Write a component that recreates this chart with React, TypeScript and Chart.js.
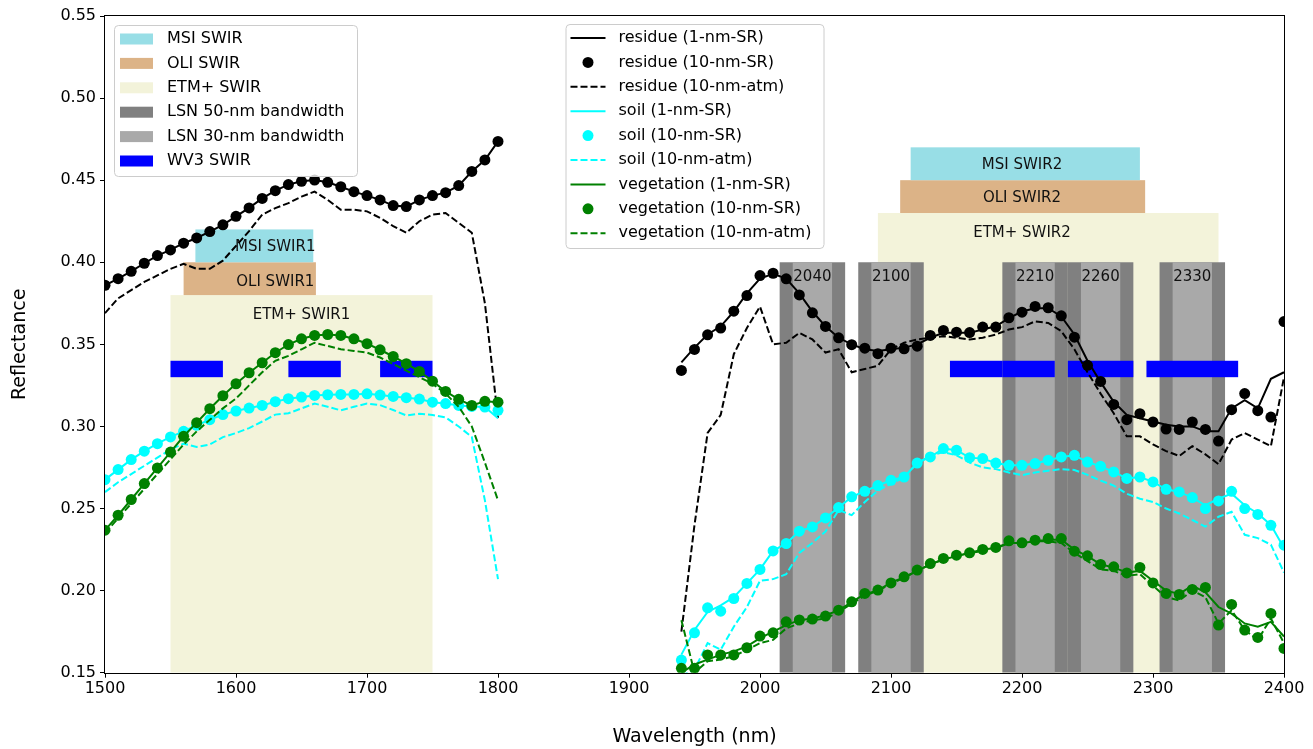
import React, { useEffect, useRef } from "react";
import { Chart, registerables } from "chart.js";

Chart.register(...registerables);

// ---------------- data ----------------
const wlLeft = [1500, 1510, 1520, 1530, 1540, 1550, 1560, 1570, 1580, 1590, 1600, 1610, 1620, 1630, 1640, 1650, 1660, 1670, 1680, 1690, 1700, 1710, 1720, 1730, 1740, 1750, 1760, 1770, 1780, 1790, 1800];
const wlRight = [1940, 1950, 1960, 1970, 1980, 1990, 2000, 2010, 2020, 2030, 2040, 2050, 2060, 2070, 2080, 2090, 2100, 2110, 2120, 2130, 2140, 2150, 2160, 2170, 2180, 2190, 2200, 2210, 2220, 2230, 2240, 2250, 2260, 2270, 2280, 2290, 2300, 2310, 2320, 2330, 2340, 2350, 2360, 2370, 2380, 2390, 2400];

const residueDotsLeft = [0.386, 0.390, 0.3945, 0.3994, 0.4041, 0.4075, 0.4116, 0.4148, 0.4187, 0.4228, 0.4280, 0.4331, 0.4389, 0.4436, 0.4473, 0.4493, 0.4501, 0.4487, 0.4460, 0.4430, 0.4406, 0.4380, 0.4345, 0.4339, 0.4380, 0.4406, 0.4424, 0.4467, 0.4553, 0.4623, 0.4736];
const residueLineLeft = [0.386, 0.390, 0.3945, 0.3994, 0.4041, 0.4075, 0.4116, 0.4148, 0.4187, 0.4228, 0.4280, 0.4331, 0.4389, 0.4436, 0.4473, 0.4493, 0.4501, 0.4487, 0.4460, 0.4430, 0.4406, 0.4380, 0.4345, 0.4339, 0.4380, 0.4406, 0.4424, 0.4467, 0.4553, 0.4623, 0.4736];
const residueAtmLeft = [0.369, 0.378, 0.383, 0.388, 0.392, 0.396, 0.399, 0.396, 0.396, 0.401, 0.410, 0.419, 0.429, 0.433, 0.436, 0.440, 0.443, 0.438, 0.432, 0.432, 0.431, 0.427, 0.422, 0.418, 0.425, 0.429, 0.430, 0.424, 0.418, 0.375, 0.305];

const soilDotsLeft = [0.2676, 0.2737, 0.2798, 0.2849, 0.2895, 0.2936, 0.2970, 0.3007, 0.3041, 0.3072, 0.3094, 0.3112, 0.3128, 0.3151, 0.3169, 0.3179, 0.3189, 0.3193, 0.3195, 0.3195, 0.3199, 0.3191, 0.3183, 0.3175, 0.3167, 0.3148, 0.3139, 0.3128, 0.3122, 0.3118, 0.3098];
const soilLineLeft = [0.2676, 0.2737, 0.2798, 0.2849, 0.2895, 0.2936, 0.2970, 0.3007, 0.3041, 0.3072, 0.3094, 0.3112, 0.3128, 0.3151, 0.3169, 0.3179, 0.3189, 0.3193, 0.3195, 0.3195, 0.3199, 0.3191, 0.3183, 0.3175, 0.3167, 0.3148, 0.3139, 0.3128, 0.3122, 0.3118, 0.305];
const soilAtmLeft = [0.260, 0.266, 0.271, 0.276, 0.281, 0.286, 0.2895, 0.2875, 0.289, 0.2935, 0.296, 0.299, 0.303, 0.3072, 0.308, 0.311, 0.3139, 0.312, 0.3098, 0.312, 0.3139, 0.313, 0.310, 0.3067, 0.3077, 0.307, 0.3055, 0.300, 0.2936, 0.255, 0.207];

const vegDotsLeft = [0.2368, 0.2459, 0.2555, 0.2652, 0.2747, 0.2844, 0.2940, 0.3023, 0.3108, 0.3187, 0.3260, 0.3327, 0.3388, 0.3449, 0.3499, 0.3534, 0.3554, 0.3560, 0.3554, 0.3534, 0.3504, 0.3467, 0.3426, 0.3382, 0.3335, 0.3276, 0.3213, 0.3165, 0.3128, 0.3153, 0.3148];
const vegLineLeft = [0.2368, 0.2459, 0.2555, 0.2652, 0.2747, 0.2844, 0.2940, 0.3023, 0.3108, 0.3187, 0.3260, 0.3327, 0.3388, 0.3449, 0.3499, 0.3534, 0.3554, 0.3560, 0.3554, 0.3534, 0.3504, 0.3467, 0.3426, 0.3382, 0.3335, 0.3276, 0.3213, 0.3165, 0.3128, 0.3153, 0.3148];
const vegAtmLeft = [0.235, 0.244, 0.253, 0.262, 0.271, 0.280, 0.289, 0.297, 0.304, 0.311, 0.317, 0.325, 0.333, 0.340, 0.343, 0.347, 0.351, 0.349, 0.347, 0.346, 0.345, 0.342, 0.338, 0.334, 0.330, 0.326, 0.320, 0.312, 0.300, 0.278, 0.255];

const residueDotsRight = [0.3341, 0.3469, 0.3558, 0.3599, 0.3702, 0.3797, 0.3919, 0.3933, 0.3899, 0.3801, 0.3692, 0.3609, 0.3540, 0.3498, 0.3477, 0.3443, 0.3477, 0.3473, 0.3489, 0.3554, 0.3585, 0.3574, 0.3572, 0.3605, 0.3605, 0.3662, 0.3696, 0.3731, 0.3723, 0.3674, 0.3544, 0.3372, 0.3274, 0.3134, 0.3041, 0.3078, 0.3027, 0.2984, 0.2982, 0.3027, 0.2982, 0.2911, 0.3102, 0.3200, 0.3096, 0.3057, 0.3639];
const residueLineRight = [0.339, 0.348, 0.356, 0.361, 0.370, 0.381, 0.390, 0.393, 0.390, 0.381, 0.370, 0.361, 0.354, 0.350, 0.347, 0.346, 0.347, 0.348, 0.350, 0.354, 0.357, 0.357, 0.357, 0.359, 0.361, 0.366, 0.370, 0.372, 0.372, 0.367, 0.356, 0.340, 0.327, 0.315, 0.307, 0.305, 0.303, 0.301, 0.300, 0.300, 0.297, 0.297, 0.311, 0.316, 0.311, 0.329, 0.333];
const residueAtmRight = [0.175, 0.240, 0.296, 0.307, 0.344, 0.360, 0.373, 0.350, 0.351, 0.357, 0.353, 0.345, 0.347, 0.333, 0.335, 0.337, 0.347, 0.351, 0.353, 0.354, 0.355, 0.354, 0.353, 0.354, 0.356, 0.359, 0.3605, 0.364, 0.363, 0.358, 0.347, 0.333, 0.320, 0.308, 0.294, 0.294, 0.289, 0.285, 0.282, 0.288, 0.283, 0.277, 0.292, 0.296, 0.292, 0.288, 0.330];

const soilDotsRight = [0.1577, 0.1743, 0.1895, 0.1875, 0.1952, 0.2044, 0.2129, 0.2242, 0.2287, 0.2362, 0.2388, 0.2443, 0.2506, 0.2571, 0.2605, 0.2640, 0.2672, 0.2692, 0.2777, 0.2814, 0.2865, 0.2855, 0.2810, 0.2804, 0.2777, 0.2763, 0.2763, 0.2774, 0.2794, 0.2814, 0.2824, 0.2783, 0.2757, 0.2723, 0.2683, 0.2692, 0.2662, 0.2617, 0.2601, 0.2567, 0.2500, 0.2546, 0.2605, 0.2500, 0.2464, 0.2398, 0.2277];
const soilLineRight = [0.161, 0.176, 0.187, 0.191, 0.196, 0.2044, 0.2129, 0.2242, 0.2287, 0.2362, 0.2388, 0.2443, 0.2506, 0.2571, 0.2605, 0.2640, 0.2672, 0.2692, 0.2777, 0.2814, 0.2865, 0.2855, 0.2810, 0.2804, 0.2777, 0.2763, 0.2763, 0.2774, 0.2794, 0.2814, 0.2824, 0.2783, 0.2757, 0.2723, 0.2683, 0.2692, 0.2662, 0.2617, 0.2601, 0.2567, 0.252, 0.256, 0.259, 0.252, 0.247, 0.240, 0.226];
const soilAtmRight = [0.148, 0.152, 0.168, 0.164, 0.178, 0.190, 0.206, 0.207, 0.210, 0.223, 0.229, 0.236, 0.249, 0.246, 0.254, 0.261, 0.265, 0.269, 0.2777, 0.282, 0.2844, 0.2824, 0.278, 0.275, 0.274, 0.272, 0.2703, 0.272, 0.273, 0.274, 0.2735, 0.2705, 0.267, 0.264, 0.259, 0.256, 0.254, 0.250, 0.247, 0.243, 0.239, 0.245, 0.248, 0.234, 0.232, 0.228, 0.211];

const vegDotsRight = [0.1527, 0.1527, 0.1608, 0.1608, 0.1608, 0.1652, 0.1723, 0.1743, 0.1810, 0.1821, 0.1827, 0.1845, 0.1881, 0.1932, 0.1983, 0.2003, 0.2047, 0.2084, 0.2125, 0.2165, 0.2196, 0.2216, 0.2230, 0.2251, 0.2263, 0.2303, 0.2291, 0.2307, 0.2317, 0.2317, 0.2240, 0.2212, 0.2159, 0.2145, 0.2108, 0.2141, 0.2047, 0.1983, 0.1977, 0.2007, 0.2019, 0.1790, 0.1916, 0.1760, 0.1715, 0.1861, 0.1648];
const vegLineRight = [0.150, 0.155, 0.158, 0.161, 0.163, 0.166, 0.171, 0.175, 0.179, 0.182, 0.183, 0.185, 0.188, 0.193, 0.198, 0.200, 0.205, 0.208, 0.212, 0.216, 0.219, 0.221, 0.223, 0.225, 0.226, 0.229, 0.229, 0.230, 0.231, 0.231, 0.225, 0.221, 0.216, 0.214, 0.211, 0.212, 0.206, 0.200, 0.198, 0.203, 0.199, 0.190, 0.186, 0.180, 0.178, 0.181, 0.172];
const vegAtmRight = [0.182, 0.150, 0.157, 0.158, 0.160, 0.164, 0.168, 0.170, 0.177, 0.180, 0.182, 0.183, 0.187, 0.192, 0.197, 0.200, 0.204, 0.208, 0.212, 0.216, 0.219, 0.221, 0.223, 0.224, 0.226, 0.229, 0.229, 0.230, 0.230, 0.229, 0.223, 0.218, 0.213, 0.212, 0.209, 0.210, 0.203, 0.196, 0.194, 0.200, 0.196, 0.180, 0.188, 0.176, 0.170, 0.183, 0.168];

// sensor bands
const sensorNames = ["ETM+ SWIR1", "OLI SWIR1", "MSI SWIR1", "ETM+ SWIR2", "OLI SWIR2", "MSI SWIR2"];
const sensorKind = ["ETM", "OLI", "MSI", "ETM", "OLI", "MSI"];
const sensorStart = [1550, 1560, 1569, 2090, 2107, 2115];
const sensorEnd = [1750, 1661, 1659, 2350, 2294, 2290];
const sensorLow = [0.15, 0.38, 0.40, 0.15, 0.43, 0.45];
const sensorHigh = [0.38, 0.40, 0.42, 0.43, 0.45, 0.47];
const sensorLabelX = [1650, 1630, 1630, 2200, 2200, 2200];
const sensorLabelY = [0.368, 0.388, 0.409, 0.418, 0.439, 0.459];

const lsnCenters = [2040, 2100, 2210, 2260, 2330];
const lsnWide = 50;
const lsnNarrow = 30;
const lsnLow = 0.15;
const lsnHigh = 0.40;
const lsnLabelY = 0.391;

const wv3Start = [1550, 1640, 1710, 2145, 2185, 2235, 2295];
const wv3End = [1590, 1680, 1750, 2185, 2225, 2285, 2365];
const wv3Low = 0.33;
const wv3High = 0.34;

const xTicks = [1500, 1600, 1700, 1800, 1900, 2000, 2100, 2200, 2300, 2400];
const yTicks = [0.15, 0.2, 0.25, 0.3, 0.35, 0.4, 0.45, 0.5, 0.55];

const patchLabels = ["MSI SWIR", "OLI SWIR", "ETM+ SWIR", "LSN 50-nm bandwidth", "LSN 30-nm bandwidth", "WV3 SWIR"];

// ---------------- styles ----------------
const COLORS: Record<string, string> = {
  MSI: "#98dee6",
  OLI: "#dcb387",
  ETM: "#f3f3da",
  LSN50: "#808080",
  LSN30: "#a9a9a9",
  WV3: "#0000ff",
};
const patchColors = [COLORS.MSI, COLORS.OLI, COLORS.ETM, COLORS.LSN50, COLORS.LSN30, COLORS.WV3];
const FONT = "'DejaVu Sans', sans-serif";
const DASH = [7, 3];

function pts(left: number[], right: number[]) {
  const a = wlLeft.map((x, i) => ({ x, y: left[i] as number | null }));
  const b = wlRight.map((x, i) => ({ x, y: right[i] as number | null }));
  return [...a, { x: 1870, y: null }, ...b];
}

type Kind = "line" | "dots" | "atm";
const seriesDefs: { label: string; color: string; kind: Kind; left: number[]; right: number[] }[] = [
  { label: "residue (1-nm-SR)", color: "#000000", kind: "line", left: residueLineLeft, right: residueLineRight },
  { label: "residue (10-nm-SR)", color: "#000000", kind: "dots", left: residueDotsLeft, right: residueDotsRight },
  { label: "residue (10-nm-atm)", color: "#000000", kind: "atm", left: residueAtmLeft, right: residueAtmRight },
  { label: "soil (1-nm-SR)", color: "#00ffff", kind: "line", left: soilLineLeft, right: soilLineRight },
  { label: "soil (10-nm-SR)", color: "#00ffff", kind: "dots", left: soilDotsLeft, right: soilDotsRight },
  { label: "soil (10-nm-atm)", color: "#00ffff", kind: "atm", left: soilAtmLeft, right: soilAtmRight },
  { label: "vegetation (1-nm-SR)", color: "#008000", kind: "line", left: vegLineLeft, right: vegLineRight },
  { label: "vegetation (10-nm-SR)", color: "#008000", kind: "dots", left: vegDotsLeft, right: vegDotsRight },
  { label: "vegetation (10-nm-atm)", color: "#008000", kind: "atm", left: vegAtmLeft, right: vegAtmRight },
];

const bandsPlugin = {
  id: "bands",
  beforeDatasetsDraw(chart: any) {
    const { ctx, chartArea: ca, scales } = chart;
    const xs = scales.x;
    const ys = scales.y;
    ctx.save();
    ctx.beginPath();
    ctx.rect(ca.left, ca.top, ca.right - ca.left, ca.bottom - ca.top);
    ctx.clip();
    const rect = (x0: number, x1: number, y0: number, y1: number, color: string) => {
      const px0 = xs.getPixelForValue(x0);
      const px1 = xs.getPixelForValue(x1);
      const py0 = ys.getPixelForValue(y0);
      const py1 = ys.getPixelForValue(y1);
      ctx.fillStyle = color;
      ctx.fillRect(px0, py1, px1 - px0, py0 - py1);
    };
    sensorNames.forEach((_, i) => {
      rect(sensorStart[i], sensorEnd[i], sensorLow[i], sensorHigh[i], COLORS[sensorKind[i]]);
    });
    lsnCenters.forEach((c) => rect(c - lsnWide / 2, c + lsnWide / 2, lsnLow, lsnHigh, COLORS.LSN50));
    lsnCenters.forEach((c) => rect(c - lsnNarrow / 2, c + lsnNarrow / 2, lsnLow, lsnHigh, COLORS.LSN30));
    wv3Start.forEach((s, i) => rect(s, wv3End[i], wv3Low, wv3High, COLORS.WV3));

    ctx.fillStyle = "#111";
    ctx.font = `15px ${FONT}`;
    ctx.textAlign = "center";
    ctx.textBaseline = "middle";
    sensorNames.forEach((n, i) => {
      ctx.fillText(n, xs.getPixelForValue(sensorLabelX[i]), ys.getPixelForValue(sensorLabelY[i]));
    });
    lsnCenters.forEach((c) => {
      ctx.fillText(String(c), xs.getPixelForValue(c), ys.getPixelForValue(lsnLabelY));
    });
    ctx.restore();
  },
  afterDraw(chart: any) {
    const { ctx, chartArea: ca } = chart;
    ctx.save();
    // spines
    ctx.strokeStyle = "#000";
    ctx.lineWidth = 1;
    ctx.strokeRect(Math.round(ca.left) - 0.5, Math.round(ca.top) - 0.5, Math.round(ca.right - ca.left) + 1, Math.round(ca.bottom - ca.top) + 1);

    const frame = (x: number, y: number, w: number, h: number) => {
      ctx.beginPath();
      (ctx as any).roundRect(x + 0.5, y + 0.5, w, h, 4);
      ctx.fillStyle = "rgba(255,255,255,0.8)";
      ctx.fill();
      ctx.strokeStyle = "#cccccc";
      ctx.lineWidth = 1;
      ctx.stroke();
    };
    const rowGap = 24.4;
    ctx.font = `16px ${FONT}`;
    ctx.textBaseline = "middle";
    ctx.textAlign = "left";

    // left legend (patches)
    const lx = ca.left + 9;
    const ly = ca.top + 9;
    frame(lx, ly, 243, 151);
    patchLabels.forEach((t, i) => {
      const cy = ly + 14 + i * rowGap;
      ctx.fillStyle = patchColors[i];
      ctx.fillRect(lx + 6, cy - 5.5, 33, 11);
      ctx.fillStyle = "#000";
      ctx.fillText(t, lx + 53, cy);
    });

    // right legend (series)
    const rw = 258;
    const rx = (ca.left + ca.right) / 2 - rw / 2;
    const ry = ca.top + 8;
    frame(rx, ry, rw, 224);
    seriesDefs.forEach((s, i) => {
      const cy = ry + 14 + i * rowGap;
      const h0 = rx + 5;
      const h1 = rx + 40;
      if (s.kind === "dots") {
        ctx.beginPath();
        ctx.arc((h0 + h1) / 2, cy, 5.5, 0, Math.PI * 2);
        ctx.fillStyle = s.color;
        ctx.fill();
      } else {
        ctx.beginPath();
        ctx.setLineDash(s.kind === "atm" ? DASH : []);
        ctx.moveTo(h0, cy);
        ctx.lineTo(h1, cy);
        ctx.strokeStyle = s.color;
        ctx.lineWidth = 2;
        ctx.stroke();
        ctx.setLineDash([]);
      }
      ctx.fillStyle = "#000";
      ctx.fillText(s.label, rx + 53, cy);
    });
    ctx.restore();
  },
};

export default function App() {
  const ref = useRef<HTMLCanvasElement | null>(null);
  useEffect(() => {
    if (!ref.current) return;
    const datasets = seriesDefs.map((s, i) => ({
      label: s.label,
      data: pts(s.left, s.right),
      borderColor: s.color,
      backgroundColor: s.color,
      borderWidth: 2,
      borderDash: s.kind === "atm" ? DASH : [],
      showLine: s.kind !== "dots",
      pointRadius: s.kind === "dots" ? 5.5 : 0,
      pointHoverRadius: 0,
      pointBorderWidth: 0,
      pointBackgroundColor: s.color,
      tension: 0,
      spanGaps: false,
      clip: 0,
      order: 100 - i,
    }));
    const chart = new Chart(ref.current, {
      type: "line",
      data: { datasets } as any,
      plugins: [bandsPlugin],
      options: {
        responsive: false,
        animation: false,
        devicePixelRatio: 1,
        parsing: true,
        layout: { padding: { top: 16, right: 29, left: 0, bottom: 0 } },
        plugins: { legend: { display: false }, tooltip: { enabled: false } },
        events: [],
        scales: {
          x: {
            type: "linear",
            min: 1500,
            max: 2400,
            afterBuildTicks: (s: any) => {
              s.ticks = xTicks.map((v) => ({ value: v }));
            },
            afterFit: (s: any) => {
              s.height = 76.3;
            },
            ticks: { color: "#000", font: { family: FONT, size: 16 }, padding: 2, maxRotation: 0, autoSkip: false, callback: (v: any) => String(Math.round(Number(v))) },
            grid: { drawOnChartArea: false, drawTicks: true, tickLength: 5, color: "#000" },
            border: { display: false },
            title: { display: true, text: "Wavelength (nm)", color: "#000", font: { family: FONT, size: 19 }, padding: { top: 0, bottom: 1 } },
          },
          y: {
            type: "linear",
            min: 0.15,
            max: 0.55,
            afterBuildTicks: (s: any) => {
              s.ticks = yTicks.map((v) => ({ value: v }));
            },
            afterFit: (s: any) => {
              s.width = 105;
            },
            ticks: { color: "#000", font: { family: FONT, size: 16 }, padding: 4, callback: (v: any) => Number(v).toFixed(2) },
            grid: { drawOnChartArea: false, drawTicks: true, tickLength: 5, color: "#000" },
            border: { display: false },
            title: { display: true, text: "Reflectance", color: "#000", font: { family: FONT, size: 19 }, padding: { top: 9, bottom: 0 } },
          },
        },
      } as any,
    });
    return () => chart.destroy();
  }, []);
  return (
    <div style={{ position: "absolute", left: 0, top: 0, width: 1313, height: 749, background: "#fff" }}>
      <canvas ref={ref} width={1313} height={749} style={{ display: "block" }} />
    </div>
  );
}
